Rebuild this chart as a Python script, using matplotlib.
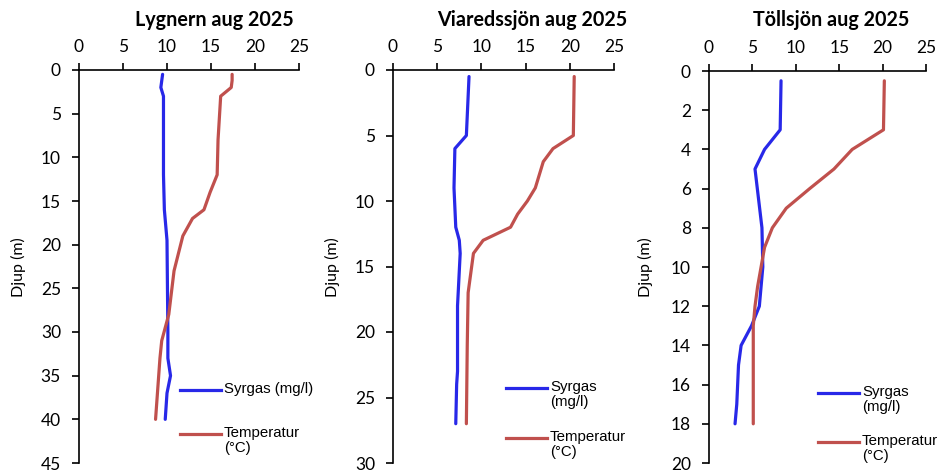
import matplotlib
matplotlib.use("Agg")
import matplotlib.pyplot as plt

# Depth profiles, August 2025
lygnern_o2_depth = [0.5, 2, 3, 12, 16, 19.5, 30, 33, 35, 37, 40]
lygnern_o2 = [9.5, 9.3, 9.6, 9.6, 9.7, 10.0, 10.1, 10.1, 10.4, 10.0, 9.8]
lygnern_temp_depth = [0.5, 1.2, 2, 3, 8, 12, 14, 16, 17, 19, 23, 28, 31, 33, 40]
lygnern_temp = [17.4, 17.4, 17.3, 16.1, 15.8, 15.7, 14.9, 14.2, 12.9, 11.8, 10.8, 10.2, 9.4, 9.2, 8.7]

viared_o2_depth = [0.5, 5, 6, 9, 12, 13, 14, 18, 23, 24, 27]
viared_o2 = [8.6, 8.3, 7.0, 6.9, 7.1, 7.5, 7.6, 7.3, 7.3, 7.2, 7.1]
viared_temp_depth = [0.5, 5, 6, 7, 9, 10, 11, 12, 13, 14, 17, 21, 27]
viared_temp = [20.5, 20.4, 18.1, 17.0, 16.1, 15.2, 14.1, 13.3, 10.2, 9.1, 8.5, 8.4, 8.3]

toll_o2_depth = [0.5, 3, 4, 5, 8, 10, 12, 13, 14, 15, 17, 18]
toll_o2 = [8.3, 8.2, 6.4, 5.3, 6.1, 6.2, 5.8, 4.9, 3.7, 3.4, 3.2, 3.0]
toll_temp_depth = [0.5, 3, 4, 5, 6, 7, 8, 9, 10, 11, 12, 13, 14, 15, 18]
toll_temp = [20.2, 20.1, 16.5, 14.4, 11.6, 8.9, 7.3, 6.4, 6.0, 5.6, 5.3, 5.1, 5.1, 5.1, 5.1]

titles = ["Lygnern aug 2025", "Viaredssjön aug 2025", "Töllsjön aug 2025"]
depth_max = [45, 30, 20]
depth_step = [5, 5, 2]
o2_labels = ["Syrgas (mg/l)", "Syrgas\n(mg/l)", "Syrgas\n(mg/l)"]
temp_label = "Temperatur\n(°C)"

BLUE = "#2828E8"
RED = "#C0504D"
TICK_FONT = "Lato"
LEG_FONT = "Liberation Sans"

profiles = [
    (lygnern_o2_depth, lygnern_o2, lygnern_temp_depth, lygnern_temp),
    (viared_o2_depth, viared_o2, viared_temp_depth, viared_temp),
    (toll_o2_depth, toll_o2, toll_temp_depth, toll_temp),
]

fig = plt.figure(figsize=(9.42, 4.72), dpi=100)
W, H = 942, 472

# axes boxes in pixels: left, top, right, bottom
boxes = [(79, 70, 299, 463), (393, 70, 614, 463), (709, 71, 926, 463)]
# title centre x, y-label centre x, legend anchor (line start x, row 1 y, row 2 y)
title_x = [214, 532, 831]
ylabel_x = [18, 332, 645]
legend_pos = [(180, 390, 434), (506, 388, 438), (818, 393, 442)]

for i, (od, ov, td, tv) in enumerate(profiles):
    l, t, r, b = boxes[i]
    ax = fig.add_axes([l / W, (H - b) / H, (r - l) / W, (b - t) / H])
    ax.plot(ov, od, color=BLUE, lw=2.3, solid_capstyle="round", clip_on=False)
    ax.plot(tv, td, color=RED, lw=2.3, solid_capstyle="round", clip_on=False)

    ax.set_xlim(0, 25)
    ax.set_ylim(depth_max[i], 0)
    ax.set_xticks(range(0, 26, 5))
    ax.set_yticks(range(0, depth_max[i] + 1, depth_step[i]))
    ax.xaxis.tick_top()
    ax.spines["right"].set_visible(False)
    ax.spines["bottom"].set_visible(False)
    for s in ("left", "top"):
        ax.spines[s].set_linewidth(1.2)
    ax.tick_params(axis="both", length=5, width=1.2, labelsize=12.5)
    ax.tick_params(axis="x", pad=6)
    ax.tick_params(axis="y", pad=8)
    for lab in ax.get_xticklabels() + ax.get_yticklabels():
        lab.set_fontfamily(TICK_FONT)

    fig.text(ylabel_x[i] / W, 1 - 267 / H, "Djup (m)", rotation=90,
             ha="center", va="center", fontsize=11.5, fontfamily=TICK_FONT)
    fig.text(title_x[i] / W, 1 - 20 / H, titles[i], ha="center", va="center",
             fontsize=14.2, fontweight="bold", fontfamily=TICK_FONT)

    # legend drawn beside the profiles
    lx, y1, y2 = legend_pos[i]
    for y, col, lab in ((y1, BLUE, o2_labels[i]), (y2, RED, temp_label)):
        fig.add_artist(plt.Line2D([lx / W, (lx + 41) / W], [1 - y / H, 1 - y / H],
                                  color=col, lw=2.3, transform=fig.transFigure))
        fig.text((lx + 44) / W, 1 - (y - 8) / H, lab, ha="left", va="top",
                 fontsize=10.8, fontfamily=LEG_FONT, linespacing=1.1)

fig.savefig("out.png", dpi=100)
